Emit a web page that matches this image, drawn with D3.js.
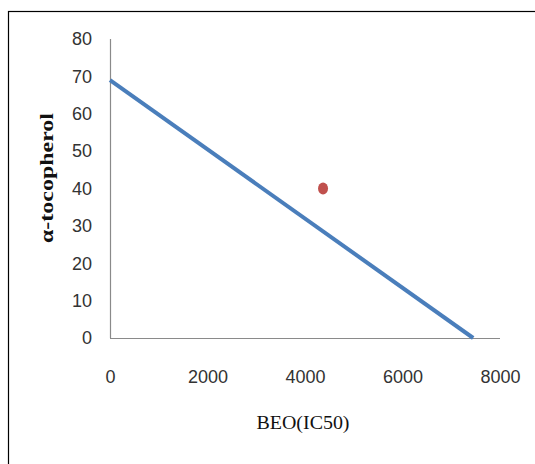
<!DOCTYPE html>
<html><head><meta charset="utf-8">
<script src="https://cdn.jsdelivr.net/npm/d3@7"></script>
<style>body{margin:0;background:#fff}svg{display:block}</style>
</head><body>
<script>
const xTicks = [0, 2000, 4000, 6000, 8000];
const yTicks = [0, 10, 20, 30, 40, 50, 60, 70, 80];
const lineX = [0, 7450];
const lineY = [69, 0];
const pointX = [4370];
const pointY = [40];
const xTitle = "BEO(IC50)";
const yTitle = "α-tocopherol";

const W = 535, H = 464;
const svg = d3.select("body").append("svg").attr("width", W).attr("height", H);
svg.append("rect").attr("x", 8.5).attr("y", 11.5).attr("width", 600).attr("height", 600)
  .attr("fill", "none").attr("stroke", "#000").attr("stroke-width", 1.2);

const x = d3.scaleLinear().domain([0, 8000]).range([110, 500]);
const y = d3.scaleLinear().domain([0, 80]).range([338, 39]);

const xAxis = svg.append("g").attr("transform", `translate(0,${y(0)})`)
  .call(d3.axisBottom(x).tickValues(xTicks).tickSize(0).tickPadding(32).tickFormat(d3.format("d")));
const yAxis = svg.append("g").attr("transform", `translate(${x(0)},0)`)
  .call(d3.axisLeft(y).tickValues(yTicks).tickSize(0).tickPadding(18).tickFormat(d3.format("d")));
[xAxis, yAxis].forEach(g => {
  g.select(".domain").attr("stroke", "#8a8a8a").attr("stroke-width", 1.2);
  g.selectAll("text").attr("font-family", "Liberation Sans, Arial, sans-serif")
    .attr("font-size", 18).attr("fill", "#333");
});
xAxis.select(".domain").attr("d", `M${x(0)},0.5H${x(8000)}`);
yAxis.select(".domain").attr("d", `M0.5,${y(80)}V${y(0)}`);

const pts = lineX.map((v, i) => [v, lineY[i]]);
svg.append("path").datum(pts)
  .attr("d", d3.line().x(d => x(d[0])).y(d => y(d[1])))
  .attr("fill", "none").attr("stroke", "#4a7ebb").attr("stroke-width", 4).attr("stroke-linecap", "butt");

svg.selectAll("ellipse.pt").data(pointX.map((v, i) => [v, pointY[i]])).enter()
  .append("ellipse").attr("class", "pt")
  .attr("cx", d => x(d[0])).attr("cy", d => y(d[1]))
  .attr("rx", 5).attr("ry", 6).attr("fill", "#c0504d");

svg.append("text").attr("x", 303).attr("y", 429).attr("text-anchor", "middle")
  .attr("font-family", "Liberation Serif, Times New Roman, serif").attr("font-size", 18)
  .attr("textLength", 93).attr("lengthAdjust", "spacingAndGlyphs").attr("fill", "#111")
  .text(xTitle);

svg.append("text").attr("transform", "translate(53,178) rotate(-90)").attr("text-anchor", "middle")
  .attr("font-family", "Liberation Serif, Times New Roman, serif").attr("font-size", 18)
  .attr("font-weight", "bold").attr("textLength", 130).attr("lengthAdjust", "spacingAndGlyphs")
  .attr("fill", "#111").text(yTitle);
</script>
</body></html>
